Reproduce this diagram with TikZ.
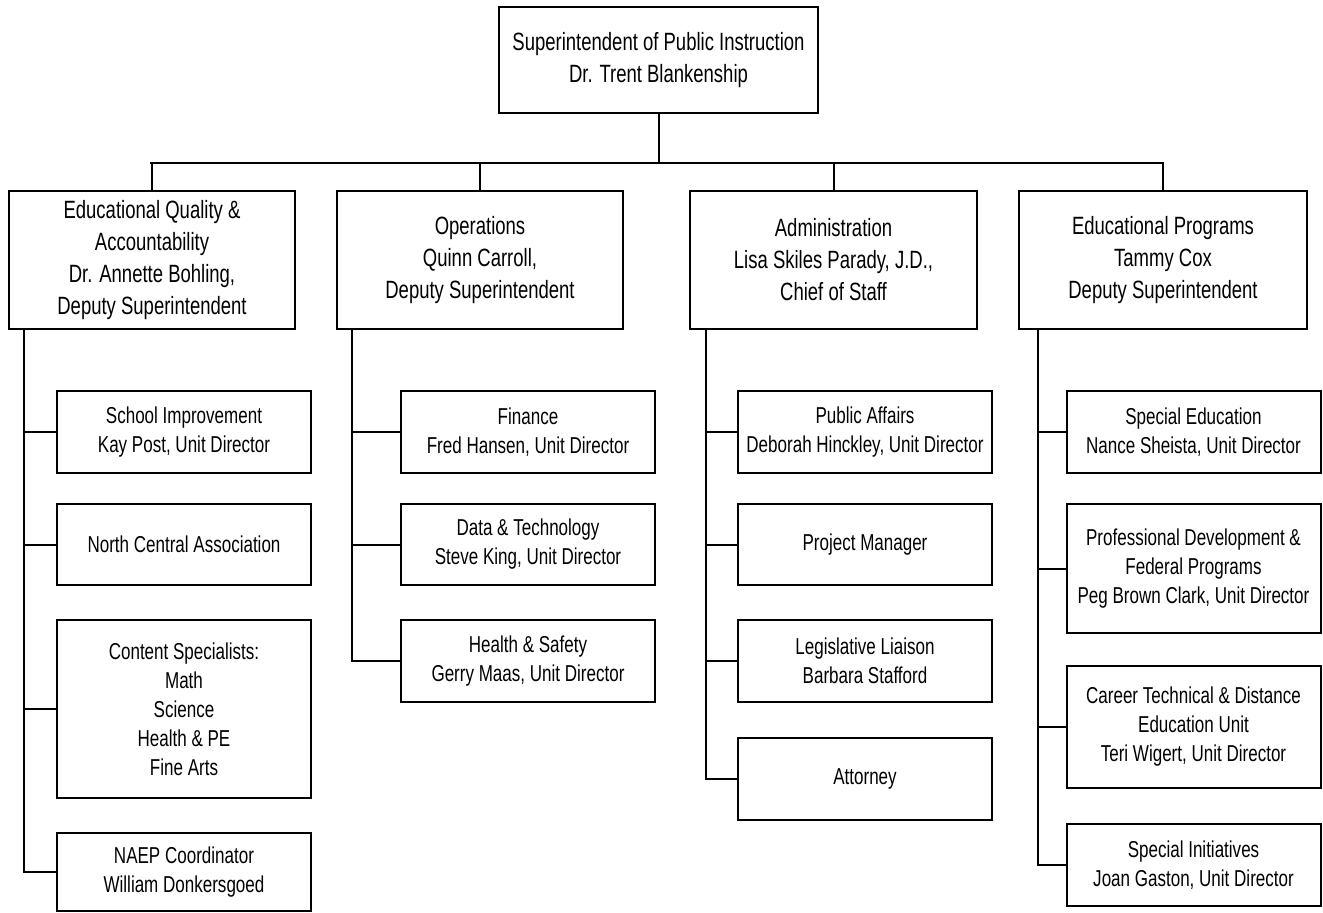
\documentclass[tikz,border=0pt]{standalone}
\usepackage{fontspec}
\setmainfont{Liberation Sans}[FakeStretch=0.74]
\begin{document}
\begin{tikzpicture}[x=1pt,y=-1pt,
  box/.style={draw=black,line width=2pt,rectangle,inner sep=0pt,align=center,text=black},
  bigbox/.style={box,font={\fontsize{25}{32}\selectfont}},
  unitbox/.style={box,minimum width=254pt,font={\fontsize{23}{29}\selectfont}},
  dept/.style={bigbox,minimum height=138pt},
  link/.style={line width=2pt,line cap=rect}]
\useasboundingbox (0,0) rectangle (1323,913);

% top
\node[bigbox,minimum width=319pt,minimum height=106pt] (top) at (658.5,60) {Superintendent of Public Instruction\\Dr. Trent Blankenship};

% departments
\node[dept,minimum width=286pt] (eqa) at (152,260) {Educational Quality \&\\Accountability\\Dr. Annette Bohling,\\Deputy Superintendent};
\node[dept,minimum width=286pt] (ops) at (480,260) {Operations\\Quinn Carroll,\\Deputy Superintendent};
\node[dept,minimum width=287pt] (adm) at (833.5,260) {Administration\\Lisa Skiles Parady, J.D.,\\Chief of Staff};
\node[dept,minimum width=288pt] (edp) at (1163,260) {Educational Programs\\Tammy Cox\\Deputy Superintendent};

% bus
\coordinate (busL) at (151,163);
\coordinate (busR) at (1163,163);
\draw[link] (busL) -- (busR);
\draw[link] (top.south) -- (top.south |- busL);
\foreach \n in {eqa,ops,adm,edp} \draw[link] (\n.north) -- (\n.north |- busL);

% column 1
\node[unitbox,minimum height=82pt] (si) at (184,432) {School Improvement\\Kay Post, Unit Director};
\node[unitbox,minimum height=81pt] (nca) at (184,544.5) {North Central Association};
\node[unitbox,minimum height=178pt] (cs) at (184,709) {Content Specialists:\\Math\\Science\\Health \& PE\\Fine Arts};
\node[unitbox,minimum height=78pt] (naep) at (184,872) {NAEP Coordinator\\William Donkersgoed};

% column 2
\node[unitbox,minimum height=82pt] (fin) at (528,432) {Finance\\Fred Hansen, Unit Director};
\node[unitbox,minimum height=81pt] (dt) at (528,544.5) {Data \& Technology\\Steve King, Unit Director};
\node[unitbox,minimum height=82pt] (hs) at (528,661) {Health \& Safety\\Gerry Maas, Unit Director};

% column 3
\node[unitbox,minimum height=82pt] (pa) at (865,432) {Public Affairs\\Deborah Hinckley, Unit Director};
\node[unitbox,minimum height=81pt] (pm) at (865,544.5) {Project Manager};
\node[unitbox,minimum height=82pt] (ll) at (865,661) {Legislative Liaison\\Barbara Stafford};
\node[unitbox,minimum height=82pt] (att) at (865,779) {Attorney};

% column 4
\node[unitbox,minimum height=82pt] (se) at (1193.5,432) {Special Education\\Nance Sheista, Unit Director};
\node[unitbox,minimum height=129pt] (pd) at (1193.5,568.5) {Professional Development \&\\Federal Programs\\Peg Brown Clark, Unit Director};
\node[unitbox,minimum height=122pt] (ct) at (1193.5,727) {Career Technical \& Distance\\Education Unit\\Teri Wigert, Unit Director};
\node[unitbox,minimum height=82pt] (spi) at (1193.5,865) {Special Initiatives\\Joan Gaston, Unit Director};

% branch trunks
\coordinate (t1) at (24,329);
\coordinate (t2) at (352,329);
\coordinate (t3) at (706,329);
\coordinate (t4) at (1038,329);
\draw[link] (t1) -- (t1 |- naep.west);
\draw[link] (t2) -- (t2 |- hs.west);
\draw[link] (t3) -- (t3 |- att.west);
\draw[link] (t4) -- (t4 |- spi.west);
\foreach \n in {si,nca,cs,naep} \draw[link] (\n.west) -- (\n.west -| t1);
\foreach \n in {fin,dt,hs} \draw[link] (\n.west) -- (\n.west -| t2);
\foreach \n in {pa,pm,ll,att} \draw[link] (\n.west) -- (\n.west -| t3);
\foreach \n in {se,pd,ct,spi} \draw[link] (\n.west) -- (\n.west -| t4);
\end{tikzpicture}
\end{document}
